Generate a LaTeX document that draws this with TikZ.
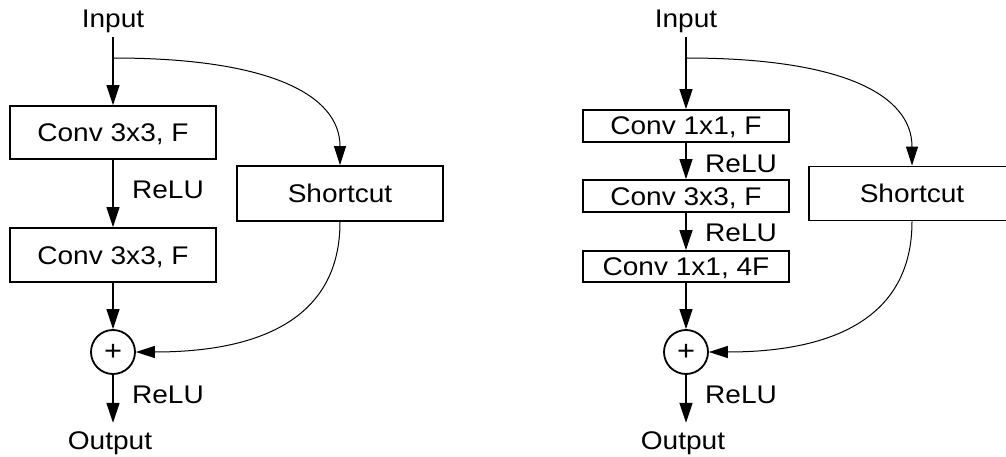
\documentclass[tikz,border=0pt]{standalone}
\usepackage{fontspec}
\setmainfont{Liberation Sans}[FakeStretch=1.1]
\usetikzlibrary{arrows.meta}
\begin{document}
\begin{tikzpicture}[x=1pt,y=-1pt,
  lbl/.style={font=\fontsize{25.5}{30}\selectfont, text height=18pt, text depth=0pt, inner sep=0pt},
  layer/.style={lbl, draw, line width=1.8pt, minimum width=206pt, minimum height=#1},
  addop/.style={circle, draw, line width=1.8pt, minimum size=44pt, inner sep=0pt,
                font=\fontsize{28}{28}\selectfont},
  conn/.style={line width=1.3pt, -{Triangle[length=20pt,width=13pt]}},
  skip/.style={line width=1pt, -{Triangle[length=19pt,width=12pt]}}]
\useasboundingbox[fill=white] (0,0) rectangle (1006,457);

% ---- basic residual block ----
\node[lbl, inner ysep=9pt] (inA) at (113,19) {Input};
\node[layer=53pt] (a1) at (113,132.5) {Conv 3x3, F};
\node[lbl] (rA1) at (168,189) {ReLU};
\node[layer=54pt] (a2) at (113,255) {Conv 3x3, F};
\node[layer=55pt] (sA) at (340,193.5) {Shortcut};
\node[addop] (pA) at (113,352) {+};
\node[lbl] (rA2) at (168,394) {ReLU};
\node[lbl, inner ysep=8pt] (outA) at (110,440) {Output};
\coordinate (brA) at (113,58);

\draw[conn] (inA.south) -- (a1.north);
\draw[skip] (brA) .. controls (270,58) and (340,95) .. (sA.north);
\draw[conn] (a1.south) -- (a2.north);
\draw[conn] (a2.south) -- (pA.north);
\draw[skip] (sA.south) .. controls (340,330) and (240,352) .. (pA.east);
\draw[conn] (pA.south) -- (pA.south |- outA.north);

% ---- bottleneck residual block ----
\node[lbl, inner ysep=9pt] (inB) at (686,19) {Input};
\node[layer=32pt] (b1) at (686,126) {Conv 1x1, F};
\node[lbl] (rB1) at (741,163.5) {ReLU};
\node[layer=32pt] (b2) at (686,196) {Conv 3x3, F};
\node[lbl] (rB2) at (741,232.5) {ReLU};
\node[layer=31pt] (b3) at (686,266.5) {Conv 1x1, 4F};
\node[layer=54pt] (sB) at (912,193.5) {Shortcut};
\node[addop] (pB) at (686,352) {+};
\node[lbl] (rB3) at (741,394) {ReLU};
\node[lbl, inner ysep=8pt] (outB) at (683,440) {Output};
\coordinate (brB) at (686,58);

\draw[conn] (inB.south) -- (b1.north);
\draw[skip] (brB) .. controls (843,58) and (912,95) .. (sB.north);
\draw[conn] (b1.south) -- (b2.north);
\draw[conn] (b2.south) -- (b3.north);
\draw[conn] (b3.south) -- (pB.north);
\draw[skip] (sB.south) .. controls (912,330) and (812,352) .. (pB.east);
\draw[conn] (pB.south) -- (pB.south |- outB.north);
\end{tikzpicture}
\end{document}
